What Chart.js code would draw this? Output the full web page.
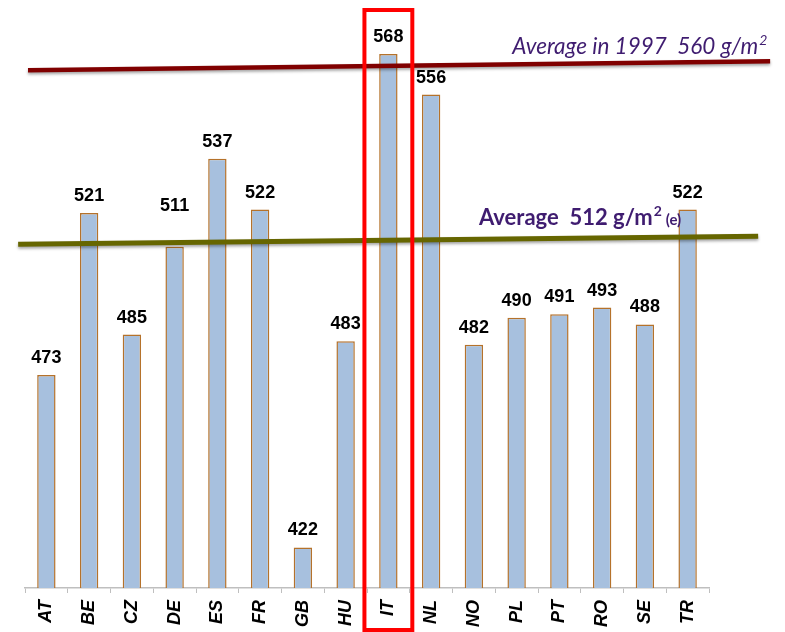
<!DOCTYPE html>
<html lang="en">
<head>
    <meta charset="UTF-8">
    <title>Paper weight by country</title>
    <script src="https://cdn.jsdelivr.net/npm/chart.js@4.4.4/dist/chart.umd.min.js"></script>
    <style>
        html, body {
            margin: 0;
            padding: 0;
            background: #ffffff;
        }
        #chart-container {
            width: 785px;
            height: 632px;
        }
    </style>
</head>
<body>
    <div id="chart-container">
        <canvas id="weight-chart"></canvas>
    </div>

    <script>
        // categories and values
        const countries = ['AT', 'BE', 'CZ', 'DE', 'ES', 'FR', 'GB', 'HU', 'IT', 'NL', 'NO', 'PL', 'PT', 'RO', 'SE', 'TR'];
        const weights = [473, 521, 485, 511, 537, 522, 422, 483, 568, 556, 482, 490, 491, 493, 488, 522];

        // the two hand drawn average lines (x in category units, y in g/m2)
        const avg1997Line = [{ x: -0.43, y: 563.2 }, { x: 16.93, y: 565.9 }];
        const avgLine = [{ x: -0.66, y: 511.7 }, { x: 16.65, y: 514.1 }];

        const highlighted = 'IT';

        const purple = '#3f1c70';

        // value labels above the bars (DE label sits higher in the original)
        const valueLabels = {
            id: 'valueLabels',
            afterDatasetsDraw(chart) {
                const ctx = chart.ctx;
                const meta = chart.getDatasetMeta(2);
                ctx.save();
                ctx.font = 'bold 18px "Liberation Sans", Arial, sans-serif';
                ctx.fillStyle = '#000000';
                ctx.textAlign = 'center';
                ctx.textBaseline = 'alphabetic';
                meta.data.forEach((bar, i) => {
                    const lift = countries[i] === 'DE' ? 36 : 12;
                    ctx.fillText(String(weights[i]), bar.x, bar.y - lift);
                });
                ctx.restore();
            }
        };

        // red box round the highlighted country + the two annotation texts
        const annotations = {
            id: 'annotations',
            afterDraw(chart) {
                const ctx = chart.ctx;
                const x = chart.scales.x;
                const x2 = chart.scales.x2;
                const y = chart.scales.y;
                const step = x.getPixelForValue(1) - x.getPixelForValue(0);
                const cx = x.getPixelForValue(countries.indexOf(highlighted));

                ctx.save();
                ctx.strokeStyle = '#ff0000';
                ctx.lineWidth = 4;
                ctx.strokeRect(cx - step * 0.56, 10, step * 1.12, 620);

                ctx.fillStyle = purple;
                ctx.textAlign = 'left';
                ctx.textBaseline = 'alphabetic';

                // Average in 1997
                let tx = x2.getPixelForValue(10.9);
                let ty = y.getPixelForValue(568.1);
                ctx.font = 'italic 22.5px Lato, "Open Sans", sans-serif';
                const t1 = 'Average in 1997  560 g/m';
                ctx.fillText(t1, tx, ty);
                let w = ctx.measureText(t1).width;
                ctx.font = 'italic 14px Lato, "Open Sans", sans-serif';
                ctx.fillText('2', tx + w + 1, ty - 9);

                // Average 512
                tx = x2.getPixelForValue(10.12);
                ty = y.getPixelForValue(517.5);
                ctx.font = 'bold 22px Lato, "Open Sans", sans-serif';
                const t2 = 'Average  512 g/m';
                ctx.fillText(t2, tx, ty);
                w = ctx.measureText(t2).width;
                ctx.font = 'bold 14px Lato, "Open Sans", sans-serif';
                ctx.fillText('2', tx + w + 1, ty - 9);
                ctx.font = 'bold 15px Lato, "Open Sans", sans-serif';
                ctx.fillText('(e)', tx + w + 13, ty);
                ctx.restore();
            }
        };

        // soft shadow under the average lines
        const lineShadow = {
            id: 'lineShadow',
            beforeDatasetDraw(chart, args) {
                if (args.meta.type === 'line') {
                    const ctx = chart.ctx;
                    ctx.save();
                    ctx.shadowColor = 'rgba(0, 0, 0, 0.35)';
                    ctx.shadowBlur = 3;
                    ctx.shadowOffsetY = 2;
                }
            },
            afterDatasetDraw(chart, args) {
                if (args.meta.type === 'line') {
                    chart.ctx.restore();
                }
            }
        };

        const ctx = document.getElementById('weight-chart').getContext('2d');
        new Chart(ctx, {
            data: {
                labels: countries,
                datasets: [
                    {
                        type: 'line',
                        label: 'Average in 1997',
                        data: avg1997Line,
                        xAxisID: 'x2',
                        borderColor: '#800000',
                        borderWidth: 4.5,
                        pointRadius: 0,
                        clip: false,
                        order: 0
                    },
                    {
                        type: 'line',
                        label: 'Average',
                        data: avgLine,
                        xAxisID: 'x2',
                        borderColor: '#666600',
                        borderWidth: 5,
                        pointRadius: 0,
                        clip: false,
                        order: 0
                    },
                    {
                        type: 'bar',
                        label: 'g/m2',
                        data: weights,
                        xAxisID: 'x',
                        backgroundColor: '#a7c0de',
                        borderColor: '#b5722b',
                        borderWidth: 1.5,
                        barPercentage: 0.43,
                        categoryPercentage: 1,
                        grouped: false,
                        order: 1
                    }
                ]
            },
            options: {
                responsive: true,
                maintainAspectRatio: false,
                animation: false,
                layout: {
                    padding: { left: 25, right: 76, top: 0, bottom: 0 }
                },
                plugins: {
                    legend: { display: false },
                    tooltip: { enabled: false }
                },
                scales: {
                    x: {
                        type: 'category',
                        offset: true,
                        afterFit(scale) {
                            scale.height = 44;
                        },
                        grid: {
                            offset: true,
                            drawOnChartArea: false,
                            drawTicks: true,
                            tickLength: 5,
                            color: '#bfbfbf'
                        },
                        border: { display: true, color: '#bfbfbf', width: 1.5 },
                        ticks: {
                            autoSkip: false,
                            minRotation: 90,
                            maxRotation: 90,
                            padding: 7,
                            color: '#000000',
                            font: { family: '"Liberation Sans", Arial, sans-serif', size: 18, style: 'italic', weight: 'bold' }
                        }
                    },
                    x2: {
                        type: 'linear',
                        display: false,
                        min: -0.5,
                        max: 15.5
                    },
                    y: {
                        display: false,
                        min: 410,
                        max: 584
                    }
                }
            },
            plugins: [valueLabels, annotations, lineShadow]
        });
    </script>
</body>
</html>
